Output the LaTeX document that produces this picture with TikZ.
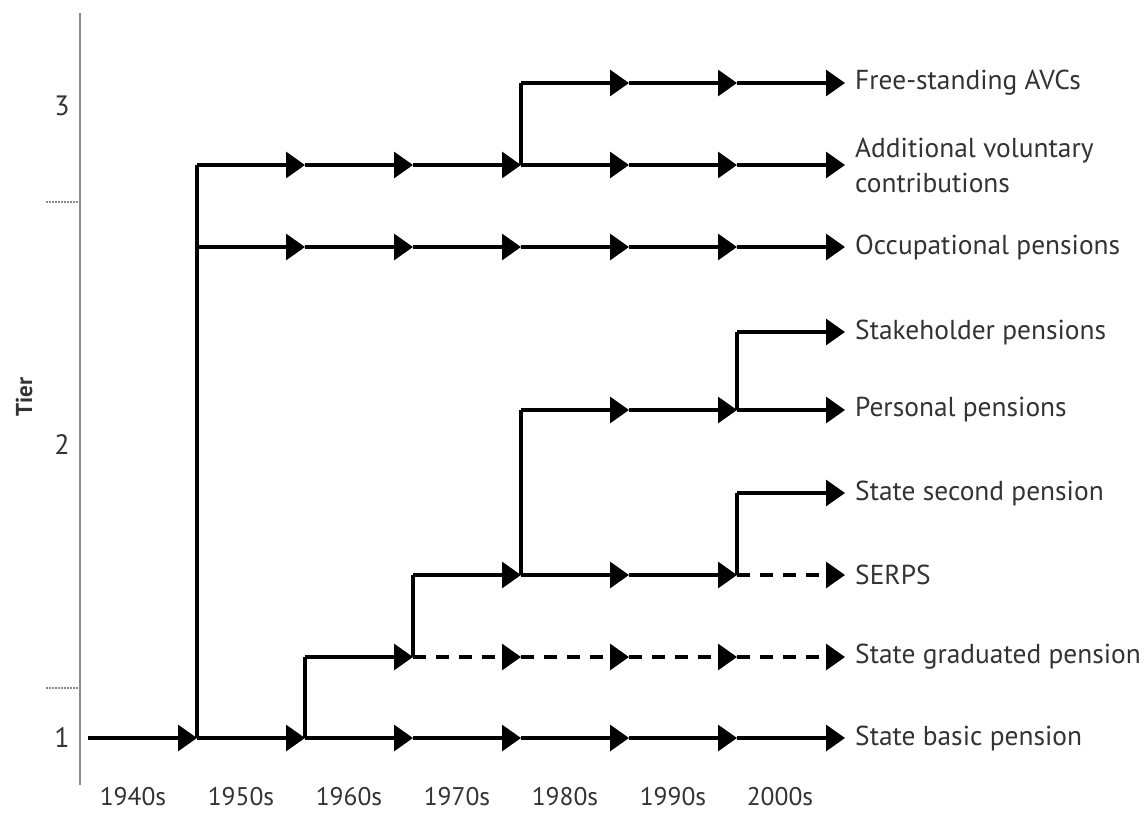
\documentclass[tikz,border=0pt]{standalone}
\usepackage{fontspec}
\setmainfont{PT Sans}
\usetikzlibrary{arrows.meta}
\definecolor{txt}{HTML}{333333}
\definecolor{axisgray}{HTML}{8A8A8A}
\tikzset{
  conn/.style={line width=3.2pt, black},
  flow/.style={conn, -{Triangle[length=19pt,width=26pt]}},
  dflow/.style={flow, dash pattern=on 13pt off 10pt},
  lab/.style={anchor=west, inner sep=0pt, text=txt, font=\fontsize{27.4}{35}\selectfont, align=left},
  yr/.style={inner sep=0pt, text=txt, font=\fontsize{25.5}{28}\selectfont},
  tiernum/.style={inner sep=0pt, text=txt, font=\fontsize{28}{30}\selectfont},
  tick/.style={axisgray, line width=1.2pt, dash pattern=on 2pt off 1pt}
}
\begin{document}
\begin{tikzpicture}[x=1pt,y=-1pt]
\useasboundingbox (0,0) rectangle (1145,814);
\fill[white] (0,0) rectangle (1145,814);

% vertical axis, tier boundaries and labels
\coordinate (axtop) at (80,13);
\coordinate (axbot) at (80,785);
\draw[axisgray, line width=2pt] (axtop) -- (axbot);
\coordinate (t23a) at (46,202); \coordinate (t23b) at (80,202);
\coordinate (t12a) at (46,688); \coordinate (t12b) at (80,688);
\draw[tick] (t23a) -- (t23b);
\draw[tick] (t12a) -- (t12b);
\node[tiernum] (n3) at (62,106) {3};
\node[tiernum] (n2) at (62,445) {2};
\node[tiernum] (n1) at (62,738) {1};
\node[inner sep=0pt, rotate=90, text=txt, font=\fontsize{23}{26}\selectfont\bfseries] (tier) at (24,397) {Tier};

% decade labels
\foreach \lbl/\xx in {1940s/133, 1950s/241, 1960s/349, 1970s/457, 1980s/565, 1990s/673, 2000s/780}
  \node[yr] (y\lbl) at (\xx,797) {\lbl};

% state basic pension
\coordinate (b0) at (88,738);
\coordinate (b1) at (197,738);
\coordinate (b2) at (305,738);
\coordinate (b3) at (413,738);
\coordinate (b4) at (521,738);
\coordinate (b5) at (629,738);
\coordinate (b6) at (737,738);
\coordinate (b7) at (845,738);
\foreach \a/\b in {b0/b1,b1/b2,b2/b3,b3/b4,b4/b5,b5/b6,b6/b7}
  \draw[flow] (\a) -- (\b);

% additional voluntary contributions and occupational pensions
\coordinate (a0) at (197,165);
\coordinate (o0) at (197,247);
\draw[conn] (b1) -- (a0);
\foreach \i/\xx in {1/305,2/413,3/521,4/629,5/737,6/845} {
  \coordinate (a\i) at (\xx,165);
  \coordinate (o\i) at (\xx,247);
}
\foreach \a/\b in {0/1,1/2,2/3,3/4,4/5,5/6} {
  \draw[flow] (a\a) -- (a\b);
  \draw[flow] (o\a) -- (o\b);
}

% free-standing AVCs
\coordinate (f0) at (521,83);
\coordinate (f1) at (629,83);
\coordinate (f2) at (737,83);
\coordinate (f3) at (845,83);
\draw[conn] (a3) -- (f0);
\draw[flow] (f0) -- (f1);
\draw[flow] (f1) -- (f2);
\draw[flow] (f2) -- (f3);

% state graduated pension
\coordinate (g0) at (305,657);
\coordinate (g1) at (413,657);
\coordinate (g2) at (521,657);
\coordinate (g3) at (629,657);
\coordinate (g4) at (737,657);
\coordinate (g5) at (845,657);
\draw[conn] (b2) -- (g0);
\draw[flow] (g0) -- (g1);
\draw[dflow] (g1) -- (g2);
\draw[dflow] (g2) -- (g3);
\draw[dflow] (g3) -- (g4);
\draw[dflow] (g4) -- (g5);

% SERPS
\coordinate (s0) at (413,575);
\coordinate (s1) at (521,575);
\coordinate (s2) at (629,575);
\coordinate (s3) at (737,575);
\coordinate (s4) at (845,575);
\draw[conn] (g1) -- (s0);
\draw[flow] (s0) -- (s1);
\draw[flow] (s1) -- (s2);
\draw[flow] (s2) -- (s3);
\draw[dflow] (s3) -- (s4);

% state second pension
\coordinate (n0) at (737,493);
\coordinate (nn) at (845,493);
\draw[conn] (s3) -- (n0);
\draw[flow] (n0) -- (nn);

% personal pensions
\coordinate (p0) at (521,410);
\coordinate (p1) at (629,410);
\coordinate (p2) at (737,410);
\coordinate (p3) at (845,410);
\draw[conn] (s1) -- (p0);
\draw[flow] (p0) -- (p1);
\draw[flow] (p1) -- (p2);
\draw[flow] (p2) -- (p3);

% stakeholder pensions
\coordinate (k0) at (737,332);
\coordinate (k1) at (845,332);
\draw[conn] (p2) -- (k0);
\draw[flow] (k0) -- (k1);

% scheme names
\node[lab] (lf) at (855,83) {Free-standing AVCs};
\node[lab] (la) at (855,165) {Additional voluntary\\contributions};
\node[lab] (lo) at (855,247) {Occupational pensions};
\node[lab] (lk) at (855,332) {Stakeholder pensions};
\node[lab] (lp) at (855,410) {Personal pensions};
\node[lab] (ln) at (855,493) {State second pension};
\node[lab] (ls) at (855,575) {SERPS};
\node[lab] (lg) at (855,657) {State graduated pension};
\node[lab] (lb) at (855,738) {State basic pension};
\end{tikzpicture}
\end{document}
